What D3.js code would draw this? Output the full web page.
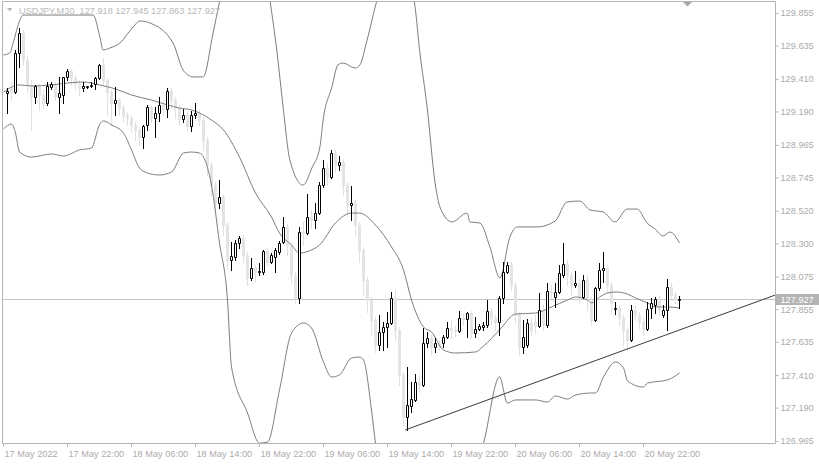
<!DOCTYPE html>
<html><head><meta charset="utf-8">
<script src="https://cdn.jsdelivr.net/npm/d3@7"></script>
<style>html,body{margin:0;padding:0;background:#fff;} svg{display:block;}</style>
</head><body>
<svg id="chart" width="819" height="465"></svg>
<script>
// ---------------- DATA ----------------
const symbolTitle = "USDJPY,M30";
const firstBar = 1; // index of first visible bar (bar 0 = 17 May 14:00, M30)
const open = [129.315,129.348,129.321,129.585,129.720,129.537,129.369,129.288,129.362,129.301,
129.247,129.355,129.375,129.288,129.301,129.423,129.463,129.416,129.375,129.348,
129.352,129.362,129.375,129.416,129.504,129.402,129.321,129.247,129.267,129.213,
129.166,129.146,129.099,129.065,129.017,129.099,129.220,129.146,129.180,129.234,
129.207,129.328,129.267,129.213,129.139,129.166,129.092,129.166,129.180,129.132,
128.997,128.828,128.693,128.572,128.612,128.423,128.187,128.207,128.302,128.336,
128.221,128.066,128.133,128.106,128.106,128.248,128.174,128.207,128.241,128.309,
128.410,128.288,128.086,127.930,128.376,128.369,128.477,128.457,128.504,128.693,
128.808,128.747,128.909,128.828,128.849,128.693,128.558,128.572,128.423,128.255,
128.052,127.917,127.782,127.613,127.701,127.735,127.762,127.930,127.714,127.411,
127.127,127.201,127.242,127.363,127.343,127.627,127.660,127.600,127.627,127.627,
127.667,127.728,127.714,127.708,127.795,127.789,127.829,127.694,127.721,127.735,
127.748,127.843,127.795,127.768,127.930,128.106,128.153,128.018,127.816,127.600,
127.613,127.762,127.768,127.741,127.849,127.748,127.978,127.937,127.971,128.086,
128.160,128.086,128.018,128.032,127.937,128.052,127.917,127.782,127.998,128.120,
128.133,128.018,127.856,127.863,127.795,127.714,127.647,127.849,127.816,127.768,
127.721,127.863,127.883,127.924,127.816,127.849,128.005,127.951,127.918];
const high = [129.348,129.389,129.605,129.754,129.740,129.571,129.402,129.369,129.375,129.335,
129.389,129.389,129.389,129.423,129.423,129.477,129.477,129.436,129.402,129.389,
129.362,129.389,129.423,129.510,129.551,129.416,129.335,129.355,129.281,129.234,
129.186,129.166,129.119,129.085,129.099,129.234,129.234,129.220,129.288,129.267,
129.348,129.348,129.288,129.234,129.207,129.186,129.193,129.247,129.200,129.153,
129.017,128.849,128.714,128.727,128.626,128.444,128.309,128.322,128.349,128.356,
128.241,128.200,128.153,128.167,128.255,128.268,128.234,128.268,128.315,128.477,
128.430,128.309,128.106,128.410,128.444,128.633,128.525,128.572,128.714,128.862,
128.842,128.930,128.930,128.889,128.869,128.714,128.687,128.592,128.444,128.275,
128.072,127.937,127.802,127.816,127.768,127.836,127.971,127.984,127.735,127.431,
127.465,127.363,127.417,127.411,127.728,127.701,127.681,127.660,127.647,127.681,
127.768,127.782,127.741,127.843,127.822,127.836,127.843,127.802,127.755,127.768,
127.917,127.863,127.816,127.944,128.174,128.174,128.174,128.038,127.836,127.782,
127.789,127.795,127.816,127.964,127.883,128.032,128.018,128.032,128.153,128.302,
128.187,128.106,128.113,128.052,128.086,128.086,127.937,128.005,128.167,128.241,
128.153,128.038,127.903,127.883,127.816,127.735,127.883,127.883,127.836,127.795,
127.903,127.930,127.937,127.944,127.883,128.059,128.032,127.971,127.945];
const low = [129.180,129.267,129.315,129.490,129.504,129.321,129.065,129.247,129.200,129.213,
129.234,129.342,129.267,129.180,129.247,129.402,129.369,129.335,129.301,129.328,
129.348,129.355,129.342,129.409,129.369,129.166,129.099,129.166,129.166,129.119,
129.099,129.051,128.997,128.963,128.943,129.065,129.119,129.017,129.126,129.166,
129.153,129.213,129.146,129.099,129.119,129.065,129.058,129.146,129.099,128.930,
128.761,128.626,128.525,128.538,128.356,128.133,128.120,128.187,128.268,128.174,
128.018,128.052,128.038,128.086,128.093,128.153,128.167,128.106,128.228,128.302,
128.221,128.032,127.897,127.897,128.288,128.362,128.403,128.403,128.498,128.680,
128.693,128.741,128.781,128.795,128.626,128.491,128.457,128.356,128.174,127.951,
127.836,127.681,127.566,127.579,127.579,127.600,127.755,127.647,127.343,127.073,
127.039,127.161,127.235,127.296,127.336,127.600,127.546,127.566,127.579,127.600,
127.660,127.660,127.674,127.701,127.748,127.667,127.660,127.667,127.714,127.714,
127.735,127.748,127.714,127.681,127.897,128.099,127.984,127.768,127.546,127.559,
127.600,127.681,127.701,127.735,127.714,127.735,127.917,127.870,127.964,128.072,
128.018,127.951,128.005,127.897,127.930,127.849,127.748,127.775,127.984,128.038,
127.971,127.836,127.822,127.748,127.613,127.579,127.640,127.782,127.728,127.681,
127.714,127.795,127.829,127.816,127.802,127.714,127.917,127.897,127.863];
const close = [129.328,129.321,129.585,129.720,129.537,129.369,129.288,129.362,129.301,129.247,
129.362,129.375,129.288,129.315,129.423,129.463,129.416,129.375,129.348,129.362,
129.362,129.369,129.416,129.504,129.402,129.321,129.247,129.267,129.213,129.166,
129.146,129.099,129.065,129.017,129.092,129.220,129.146,129.180,129.234,129.207,
129.328,129.267,129.213,129.139,129.166,129.092,129.166,129.180,129.132,128.997,
128.828,128.693,128.572,128.612,128.423,128.187,128.214,128.302,128.336,128.221,
128.066,128.133,128.106,128.113,128.248,128.174,128.221,128.255,128.302,128.410,
128.288,128.086,127.930,128.376,128.369,128.477,128.457,128.504,128.693,128.808,
128.747,128.909,128.828,128.849,128.693,128.558,128.572,128.423,128.255,128.052,
127.917,127.782,127.613,127.701,127.735,127.762,127.930,127.714,127.411,127.127,
127.208,127.248,127.363,127.343,127.627,127.660,127.600,127.627,127.606,127.667,
127.728,127.714,127.708,127.795,127.789,127.829,127.694,127.721,127.741,127.748,
127.843,127.795,127.768,127.930,128.106,128.153,128.018,127.816,127.600,127.667,
127.762,127.714,127.741,127.849,127.748,127.978,127.971,127.971,128.099,128.160,
128.086,128.018,128.032,127.937,128.052,127.917,127.782,127.998,128.120,128.133,
128.018,127.897,127.863,127.795,127.714,127.647,127.849,127.816,127.768,127.721,
127.856,127.897,127.924,127.849,127.849,128.005,127.951,127.917,127.927];

// Bollinger-type bands (bar index, price)
const upperK = [0,1.6,2.4,4.1,4.9,22.4,24.1,24.9,26.6,29.1,32.4,34.1,36.6,42.4,44.9,47.4,49.9,52.4,54.1,57.9,61.6,64.6,66.6,68.4,69.9,71.6,74.9,77.1,79.1,79.9,82.1,83.6,84.9,87.9,89.1,90.9,93.4,97.9,102.6,104.1,105.9,107.9,109.1,112.1,115.9,116.6,119.1,121.6,124.1,126.6,128.4,133.4,137.9,140.9,144.1,146.6,149.9,152.9,155.9,158.4,160.9,162.9,164.9,166.6,169];
const upperV = [129.571,129.585,129.652,129.807,129.841,129.841,129.693,129.605,129.618,129.652,129.760,129.801,129.787,129.652,129.470,129.423,129.423,129.720,129.943,130.348,130.550,130.280,129.943,129.585,129.220,128.862,128.693,128.808,128.950,129.132,129.355,129.504,129.517,129.483,129.504,129.672,129.943,130.213,129.943,129.585,129.220,128.707,128.545,128.444,128.504,128.444,128.437,128.275,128.066,128.342,128.410,128.410,128.450,128.579,128.585,128.525,128.511,128.444,128.531,128.531,128.437,128.396,128.349,128.376,128.302];
const middleK = [0,4,7,12,16,20,24,28,32,37,41,44,47,49,52,55,59,63,67,69,72,74,77,79,83,87,89,93,97,100,102,105,107,110,113,118,120,124,128,133,137,141,143,146,147,149,151,153,156,158,161,163,166,169];
const middleV = [129.321,129.369,129.362,129.369,129.382,129.389,129.369,129.342,129.301,129.267,129.234,129.213,129.200,129.180,129.132,129.065,128.882,128.639,128.477,128.369,128.288,128.234,128.255,128.288,128.437,128.504,128.504,128.423,128.275,128.120,127.917,127.735,127.701,127.579,127.559,127.566,127.606,127.714,127.822,127.829,127.870,127.917,127.937,127.917,127.897,127.937,127.964,127.971,127.957,127.930,127.897,127.870,127.870,127.863];
const lowerK = [0,2,3,4,7,12,15,19,22,24,25,27,30,32,34,36,39,42,45,47,49,50,52,54,56,57,61,64,66,69,72,75,77,80,82,84,87,89,90,92,93,97,104,114,120,124,126,128,133,136,138,141,143,147,148,150,153,155,156,160,161,166,169];
const lowerV = [129.072,129.105,129.044,128.916,128.882,128.903,128.889,128.930,128.943,129.099,129.126,129.099,129.044,128.930,128.808,128.774,128.761,128.781,128.909,128.916,128.909,128.882,128.693,128.302,127.917,127.465,127.154,126.951,126.958,127.309,127.694,127.762,127.728,127.498,127.397,127.411,127.525,127.532,127.512,127.174,126.951,126.580,126.445,126.580,126.951,127.397,127.221,127.242,127.242,127.228,127.269,127.248,127.275,127.289,127.289,127.397,127.498,127.458,127.370,127.329,127.356,127.377,127.424];

const trendK = [100.4, 192.9];
const trendV = [127.039, 127.950];
const lastPrice = 127.927;
const lastBar = {o:127.918, h:127.945, l:127.863, c:127.927};

const priceTicks = [129.855,129.635,129.410,129.190,128.965,128.745,128.520,128.300,128.075,127.855,127.635,127.410,127.190,126.965];
const timeTickBars = [0,16,32,48,64,80,96,112,128,144,160];
const timeTickLabels = ["17 May 2022","17 May 22:00","18 May 06:00","18 May 14:00","18 May 22:00","19 May 06:00","19 May 14:00","19 May 22:00","20 May 06:00","20 May 14:00","20 May 22:00"];

// ---------------- CHART ----------------
const svg = d3.select("#chart");
const FONT = "'Liberation Sans', Arial, sans-serif";
const FS = "9.2px";
const TXT = "#ababab";
const frame = {left:2.5, right:775.5, top:1.5, bottom:443.5};

const x = d3.scaleLinear().domain([0,193]).range([3.5,775.5]);
const y = d3.scaleLinear().domain([126.9716,129.9425]).range([440,0]);

svg.append("rect").attr("width",819).attr("height",465).attr("fill","#fff");

svg.append("defs").append("clipPath").attr("id","plotClip")
  .append("rect").attr("x",frame.left).attr("y",frame.top+0.5)
  .attr("width",frame.right-frame.left).attr("height",frame.bottom-frame.top-0.5);

const plot = svg.append("g").attr("clip-path","url(#plotClip)");

const bars = open.map((o,i)=>({k:firstBar+i,o,h:high[i],l:low[i],c:close[i]}));
const sn = v => Math.round(v);

// price line
plot.append("line").attr("x1",frame.left).attr("x2",frame.right)
  .attr("y1",sn(y(lastPrice))+0.5).attr("y2",sn(y(lastPrice))+0.5)
  .attr("stroke","#c4c4c4").attr("stroke-width",1);

// bearish candles (light grey)
const bear = bars.filter(d=>d.c<d.o);
const gB = plot.append("g");
gB.selectAll("line").data(bear).join("line")
  .attr("x1",d=>x(d.k)).attr("x2",d=>x(d.k))
  .attr("y1",d=>sn(y(d.h))).attr("y2",d=>sn(y(d.l))+1)
  .attr("stroke","#e0e0e0").attr("stroke-width",1);
gB.selectAll("rect").data(bear).join("rect")
  .attr("x",d=>x(d.k)-1.5).attr("width",3)
  .attr("y",d=>sn(y(d.o)))
  .attr("height",d=>Math.max(1,sn(y(d.c))-sn(y(d.o))+1))
  .attr("fill","#e4e4e4");

// bands
const line = d3.line().x(d=>x(d[0])).y(d=>y(d[1])).curve(d3.curveMonotoneX);
[[upperK,upperV],[middleK,middleV],[lowerK,lowerV]].forEach(([K,V])=>{
  plot.append("path").datum(K.map((k,i)=>[k,V[i]]))
    .attr("d",line).attr("fill","none").attr("stroke","#7c7c7c").attr("stroke-width",1);
});

// bullish candles (hollow, black outline)
const bull = bars.filter(d=>d.c>=d.o);
const gU = plot.append("g");
gU.selectAll("line").data(bull).join("line")
  .attr("x1",d=>x(d.k)).attr("x2",d=>x(d.k))
  .attr("y1",d=>sn(y(d.h))).attr("y2",d=>sn(y(d.l))+1)
  .attr("stroke","#000").attr("stroke-width",1);
gU.selectAll("path").data(bull).join("path")
  .attr("d",d=>{
    const t=sn(y(d.c))+0.5, b=sn(y(d.o))+0.5, cx=x(d.k);
    return `M${cx-1},${t}H${cx+1}V${b}H${cx-1}Z`;
  })
  .attr("fill","#fff").attr("stroke","#000").attr("stroke-width",1);

// trend line
plot.append("line")
  .attr("x1",x(trendK[0])).attr("y1",y(trendV[0]))
  .attr("x2",x(trendK[1])).attr("y2",y(trendV[1]))
  .attr("stroke","#3a3a3a").attr("stroke-width",1);

// frame
const fr = svg.append("g").attr("stroke","#b4b4b4").attr("stroke-width",1).attr("fill","none");
fr.append("path").attr("d",`M${frame.left},${frame.bottom}V${frame.top}H${frame.right}V${frame.bottom}H${frame.left}`);

// right price axis
const yAxis = d3.axisRight(y).tickValues(priceTicks).tickFormat(d3.format(".3f"))
  .tickSize(3).tickPadding(2);
const ya = svg.append("g").attr("transform",`translate(${frame.right},0)`).call(yAxis);
ya.select(".domain").remove();
ya.selectAll(".tick line").attr("stroke","#b4b4b4");
ya.selectAll(".tick text").attr("fill",TXT).style("font-family",FONT).style("font-size",FS);

// bottom time axis
const xAxis = d3.axisBottom(x).tickValues(timeTickBars)
  .tickFormat((d,i)=>timeTickLabels[i]).tickSize(4).tickPadding(3);
const xa = svg.append("g").attr("transform",`translate(0,${frame.bottom-0.5})`).call(xAxis);
xa.select(".domain").remove();
xa.selectAll(".tick line").attr("stroke","#b4b4b4").attr("transform","translate(-0.5,0)");
xa.selectAll(".tick text").attr("fill",TXT).attr("text-anchor","start").attr("dx","0.5")
  .style("font-family",FONT).style("font-size",FS);

// last price label
const ly = sn(y(lastPrice))+0.5;
svg.append("rect").attr("x",frame.right).attr("y",ly-5.5).attr("width",819-frame.right).attr("height",11)
  .attr("fill","#b4b4b4");
svg.append("text").attr("x",frame.right+5).attr("y",ly).attr("dy","0.34em")
  .attr("fill","#fff").style("font-family",FONT).style("font-size",FS)
  .text(d3.format(".3f")(lastPrice));

// title
svg.append("path").attr("d","M7,8H12.5L9.75,11.5Z").attr("fill","#b8b8b8");
svg.append("text").attr("x",19).attr("y",13.5).attr("fill","#b8b8b8")
  .style("font-family",FONT).style("font-size",FS).style("white-space","pre")
  .text(`${symbolTitle}  ${lastBar.o.toFixed(3)} ${lastBar.h.toFixed(3)} ${lastBar.l.toFixed(3)} ${lastBar.c.toFixed(3)}`);

// chart-shift marker
svg.append("path").attr("d",`M${x(171)-4.5},2H${x(171)+4.5}L${x(171)},6.5Z`).attr("fill","#a8a8a8");
</script>
</body></html>
